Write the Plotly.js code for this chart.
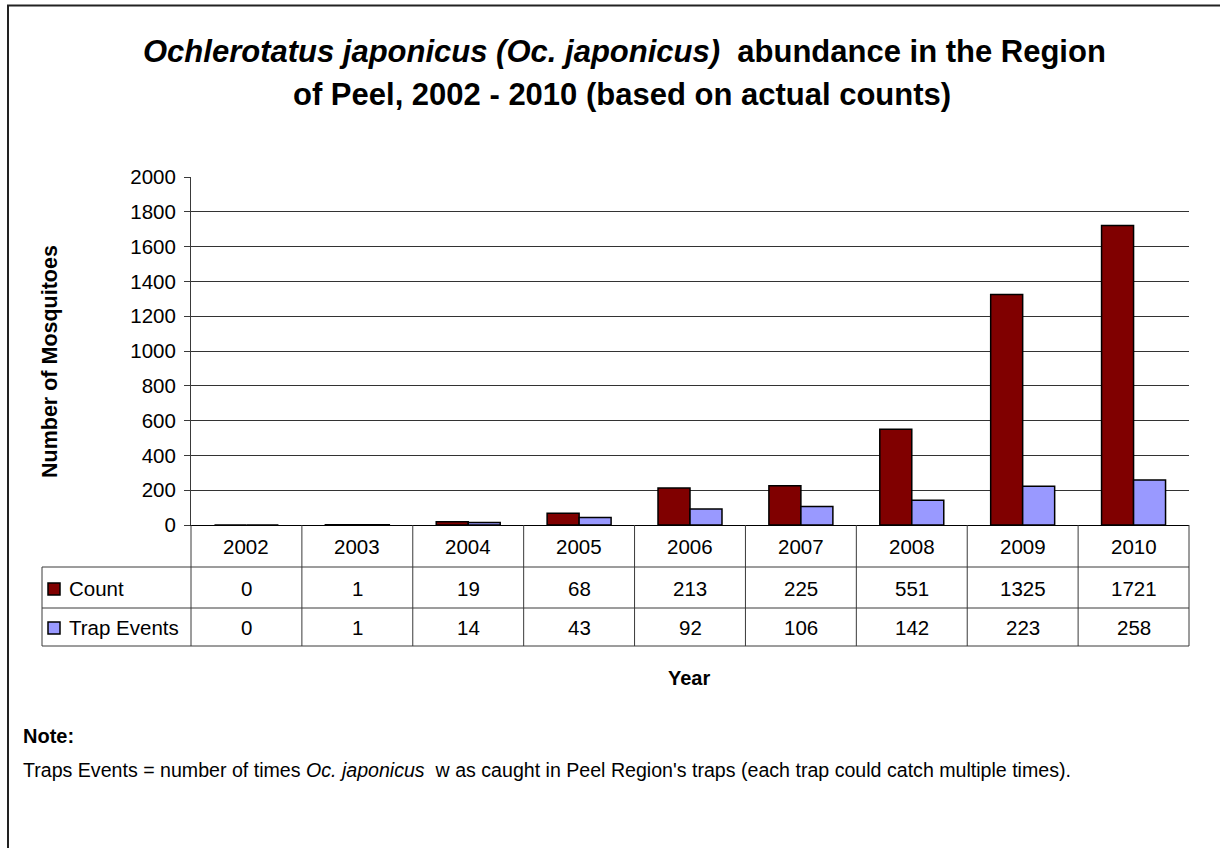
<!DOCTYPE html>
<html>
<head>
<meta charset="utf-8">
<script src="https://cdn.plot.ly/plotly-3.0.1.min.js"></script>
<style>
  html, body { margin: 0; padding: 0; background: #fff; }
  #chart { width: 1220px; height: 848px; }
</style>
</head>
<body>
<div id="chart"></div>
<script>
// Yearly counts of Oc. japonicus and the number of trap events
const years = ['2002', '2003', '2004', '2005', '2006', '2007', '2008', '2009', '2010'];
const countValues = [0, 1, 19, 68, 213, 225, 551, 1325, 1721];
const trapEventValues = [0, 1, 14, 43, 92, 106, 142, 223, 258];
const seriesNames = ['Count', 'Trap Events'];
const seriesColors = ['#800000', '#9999FF'];

const titleLine1 = '<i>Ochlerotatus japonicus (Oc. japonicus)</i>  abundance in the Region';
const titleLine2 = 'of Peel, 2002 - 2010 (based on actual counts)';
const yTitle = 'Number of Mosquitoes';
const xTitle = 'Year';
const noteHead = 'Note:';
const noteText = 'Traps Events = number of times <i>Oc. japonicus</i>  w as caught in Peel Region\'s traps (each trap could catch multiple times).';

// Page geometry (pixels)
const W = 1220, H = 848;
const plotL = 191, plotR = 1189, plotT = 177, plotB = 525;
const plotW = plotR - plotL, plotH = plotB - plotT;
const px = v => (v - plotL) / plotW;       // pixel x -> paper x
const py = v => (plotB - v) / plotH;       // pixel y -> paper y

const FONT = 'Liberation Sans, Arial, Helvetica, sans-serif';
const LINE = '#3a3a3a';

// Data table rows below the plot
const rowHeaderY = 546, rowCountY = 588, rowTrapY = 627;
const tableRowLines = [567, 608, 646];
const tableLeft = 42;

const traces = [
  {
    type: 'bar', name: seriesNames[0], x: years, y: countValues,
    marker: { color: seriesColors[0], line: { color: '#000', width: 1.5 } },
    hoverinfo: 'x+y'
  },
  {
    type: 'bar', name: seriesNames[1], x: years, y: trapEventValues,
    marker: { color: seriesColors[1], line: { color: '#000', width: 1.5 } },
    hoverinfo: 'x+y'
  }
];

const shapes = [];
const annotations = [];

// outer frame of the chart
shapes.push({
  type: 'rect', xref: 'paper', yref: 'paper',
  x0: px(8), x1: px(1240), y0: py(870), y1: py(5.5),
  line: { color: '#222', width: 2 }, fillcolor: 'rgba(0,0,0,0)', layer: 'below'
});

// horizontal table rules
tableRowLines.forEach(yy => {
  shapes.push({
    type: 'line', xref: 'paper', yref: 'paper',
    x0: px(tableLeft), x1: 1, y0: py(yy), y1: py(yy),
    line: { color: LINE, width: 1 }
  });
});
// left edge of the legend column
shapes.push({
  type: 'line', xref: 'paper', yref: 'paper',
  x0: px(tableLeft), x1: px(tableLeft), y0: py(tableRowLines[0]), y1: py(tableRowLines[2]),
  line: { color: LINE, width: 1 }
});
// y axis line continues down through the table, plus the right edge
[0, 1].forEach(xx => {
  shapes.push({
    type: 'line', xref: 'paper', yref: 'paper',
    x0: xx, x1: xx, y0: 0, y1: py(tableRowLines[2]),
    line: { color: LINE, width: 1 }
  });
});
// column separators between years (category index positions)
for (let i = 0; i < years.length - 1; i++) {
  shapes.push({
    type: 'line', xref: 'x', yref: 'paper',
    x0: i + 0.5, x1: i + 0.5, y0: 0, y1: py(tableRowLines[2]),
    line: { color: LINE, width: 1 }
  });
}

// legend keys inside the table
[[rowCountY, 0], [rowTrapY, 1]].forEach(([cy, k]) => {
  shapes.push({
    type: 'rect', xref: 'paper', yref: 'paper',
    x0: px(48), x1: px(60), y0: py(cy + 7), y1: py(cy - 5),
    fillcolor: seriesColors[k], line: { color: '#000', width: 1.5 }
  });
  annotations.push({
    xref: 'paper', yref: 'paper', x: px(67), y: py(cy), xanchor: 'left', yanchor: 'middle',
    text: seriesNames[k], showarrow: false, font: { family: FONT, size: 20.5, color: '#000' }
  });
});

// table cells, placed by category index on the x axis
const cellFont = { family: FONT, size: 20.5, color: '#000' };
years.forEach((yr, i) => {
  annotations.push({ xref: 'x', yref: 'paper', x: i, y: py(rowHeaderY), text: yr,
    showarrow: false, xanchor: 'center', yanchor: 'middle', font: cellFont });
  annotations.push({ xref: 'x', yref: 'paper', x: i, y: py(rowCountY), text: String(countValues[i]),
    showarrow: false, xanchor: 'center', yanchor: 'middle', font: cellFont });
  annotations.push({ xref: 'x', yref: 'paper', x: i, y: py(rowTrapY), text: String(trapEventValues[i]),
    showarrow: false, xanchor: 'center', yanchor: 'middle', font: cellFont });
});

// title lines
annotations.push({ xref: 'paper', yref: 'paper', x: px(624), y: py(52), text: '<b>' + titleLine1 + '</b>',
  showarrow: false, xanchor: 'center', yanchor: 'middle', font: { family: FONT, size: 31, color: '#000' } });
annotations.push({ xref: 'paper', yref: 'paper', x: px(622), y: py(94), text: '<b>' + titleLine2 + '</b>',
  showarrow: false, xanchor: 'center', yanchor: 'middle', font: { family: FONT, size: 31, color: '#000' } });

// axis titles
annotations.push({ xref: 'paper', yref: 'paper', x: px(50), y: py(362), text: '<b>' + yTitle + '</b>',
  textangle: -90, showarrow: false, xanchor: 'center', yanchor: 'middle',
  font: { family: FONT, size: 21.5, color: '#000' } });
annotations.push({ xref: 'paper', yref: 'paper', x: px(689), y: py(678), text: '<b>' + xTitle + '</b>',
  showarrow: false, xanchor: 'center', yanchor: 'middle', font: { family: FONT, size: 20, color: '#000' } });

// note below the chart
annotations.push({ xref: 'paper', yref: 'paper', x: px(21), y: py(736), text: '<b>' + noteHead + '</b>',
  showarrow: false, xanchor: 'left', yanchor: 'middle', font: { family: FONT, size: 20, color: '#000' } });
annotations.push({ xref: 'paper', yref: 'paper', x: px(21), y: py(770), text: noteText,
  showarrow: false, xanchor: 'left', yanchor: 'middle', font: { family: FONT, size: 19.6, color: '#000' } });

const layout = {
  width: W, height: H,
  margin: { l: plotL, r: W - plotR, t: plotT, b: H - plotB, pad: 0 },
  paper_bgcolor: '#fff', plot_bgcolor: '#fff',
  showlegend: false,
  barmode: 'group', bargap: 0.423, bargroupgap: 0,
  font: { family: FONT, color: '#000' },
  xaxis: {
    type: 'category', range: [-0.5, years.length - 0.5], autorange: false,
    showticklabels: false, ticks: '',
    showline: true, linecolor: '#000', linewidth: 1,
    showgrid: false, zeroline: false, fixedrange: true
  },
  yaxis: {
    range: [0, 2000], autorange: false, dtick: 200, tick0: 0,
    ticks: 'outside', ticklen: 6, tickwidth: 1, tickcolor: LINE,
    ticklabelstandoff: 4,
    showline: true, linecolor: LINE, linewidth: 1,
    showgrid: true, gridcolor: '#333', gridwidth: 1,
    zeroline: false, fixedrange: true,
    tickfont: { family: FONT, size: 20.5, color: '#000' }
  },
  shapes: shapes,
  annotations: annotations
};

Plotly.newPlot('chart', traces, layout, { displayModeBar: false, staticPlot: true });
</script>
</body>
</html>
